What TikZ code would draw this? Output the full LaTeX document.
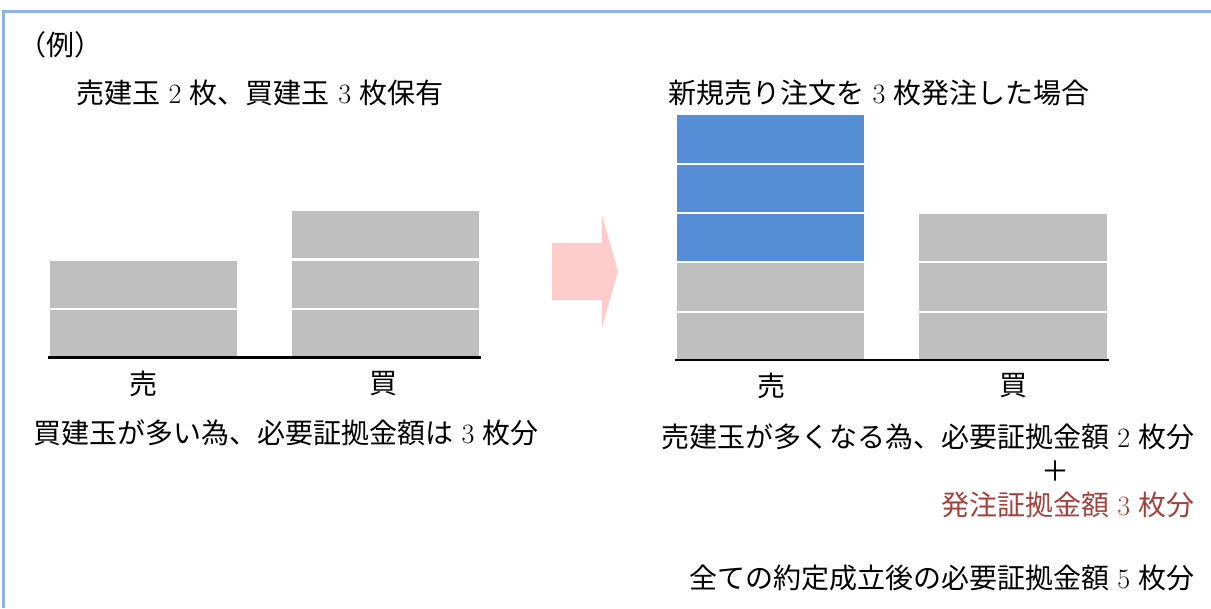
\documentclass[tikz,border=0pt]{standalone}
\usepackage{fontspec}
\newfontfamily\cjk{Noto Sans CJK JP}
\newcommand\D[1]{\hspace{0.3em}{\rmfamily #1}\hspace{0.3em}}
\definecolor{framec}{HTML}{8EB4E3}
\definecolor{barg}{HTML}{BFBFBF}
\definecolor{barb}{HTML}{558ED5}
\definecolor{arrowc}{HTML}{FFCCCC}
\definecolor{redt}{HTML}{A6403D}
\tikzset{
  txt/.style={inner sep=0pt, font=\fontsize{21}{25}\selectfont\cjk},
  grey/.style={fill=barg, draw=none},
  blue/.style={fill=barb, draw=none},
  base/.style={line width=1.9pt, black},
}
\begin{document}
\begin{tikzpicture}[x=0.75pt, y=-0.75pt]
\useasboundingbox (0,0) rectangle (1211,608);
% frame (only top and left visible)
\draw[framec, line width=1.9pt] (3.3,608) -- (3.3,11.5) -- (1211,11.5);
% texts
\node[txt, anchor=west] (rei) at (18,45) {（例）};
\node[txt, anchor=west] (t1) at (76,93) {売建玉\D{2}枚、買建玉\D{3}枚保有};
\node[txt, anchor=west] (t2) at (668,93) {新規売り注文を\D{3}枚発注した場合};
% left bars
\path[grey] (50,261) rectangle (237,308);
\path[grey] (50,310) rectangle (237,357);
\path[grey] (292,211) rectangle (479,258);
\path[grey] (292,261) rectangle (479,308);
\path[grey] (292,310) rectangle (479,357);
\coordinate (lb1) at (48,357.5);
\coordinate (lb2) at (481,357.5);
\draw[base] (lb1) -- (lb2);
\node[txt] (ls) at (143,384) {売};
\node[txt] (lbuy) at (383,384) {買};
\node[txt, anchor=west] (t3) at (33,433) {買建玉が多い為、必要証拠金額は\D{3}枚分};
% arrow
\path[fill=arrowc] (552,243) -- (602,243) -- (602,215) -- (618,271.5) -- (602,328) -- (602,300) -- (552,300) -- cycle;
% right bars
\path[blue] (677,115) rectangle (864,162.7);
\path[blue] (677,165) rectangle (864,211.7);
\path[blue] (677,214) rectangle (864,260.7);
\path[grey] (677,263) rectangle (864,310.7);
\path[grey] (677,313) rectangle (864,359.3);
\path[grey] (919,214) rectangle (1107,260.7);
\path[grey] (919,263) rectangle (1107,310.7);
\path[grey] (919,313) rectangle (1107,359.3);
\coordinate (rb1) at (675,360);
\coordinate (rb2) at (1109,360);
\draw[base] (rb1) -- (rb2);
\node[txt] (rs) at (771,386) {売};
\node[txt] (rbuy) at (1013,386) {買};
\node[txt, anchor=east] (t4) at (1195,437) {売建玉が多くなる為、必要証拠金額\D{2}枚分};
\node[txt] (plus) at (1055,471) {＋};
\node[txt, anchor=east, text=redt] (t5) at (1195,505) {発注証拠金額\D{3}枚分};
\node[txt, anchor=east] (t6) at (1195,578) {全ての約定成立後の必要証拠金額\D{5}枚分};
\end{tikzpicture}
\end{document}
